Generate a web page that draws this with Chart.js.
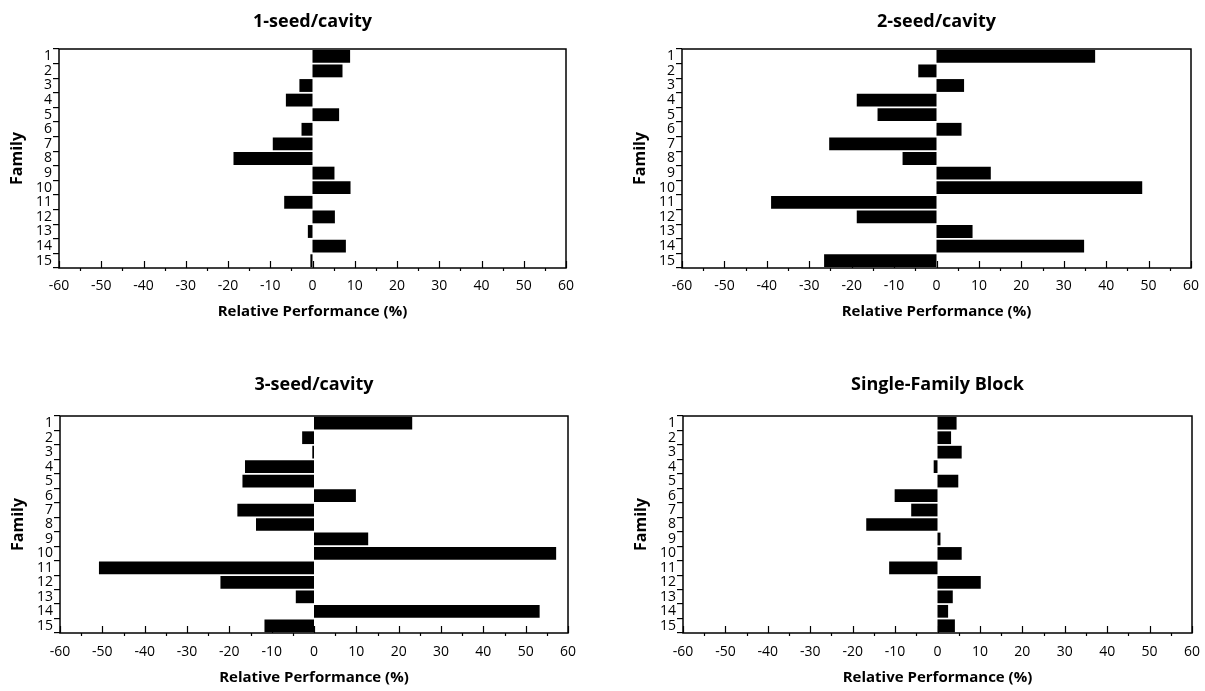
<!DOCTYPE html>
<html>
<head>
<meta charset="utf-8">
<title>Relative Performance by Family</title>
<script src="https://cdn.jsdelivr.net/npm/chart.js@4/dist/chart.umd.min.js"></script>
<style>
    html, body { margin: 0; padding: 0; background: #fff; }
    body { width: 1205px; height: 691px; position: relative; overflow: hidden; }
    canvas { position: absolute; }
</style>
</head>
<body>
<canvas id="chart1"></canvas>
<canvas id="chart2"></canvas>
<canvas id="chart3"></canvas>
<canvas id="chart4"></canvas>

<script>
// --- DATA ---
const families = ['1', '2', '3', '4', '5', '6', '7', '8', '9', '10', '11', '12', '13', '14', '15'];
const oneSeed    = [8.9, 7.1, -3.1, -6.3, 6.3, -2.6, -9.4, -18.7, 5.2, 9.0, -6.7, 5.3, -1.1, 7.9, -0.5];
const twoSeed    = [37.4, -4.3, 6.5, -18.8, -13.9, 5.9, -25.3, -8.0, 12.8, 48.5, -39.0, -18.8, 8.5, 34.8, -26.5];
const threeSeed  = [23.2, -2.8, -0.4, -16.3, -16.9, 9.9, -18.1, -13.7, 12.8, 57.2, -50.8, -22.1, -4.3, 53.3, -11.7];
const singleFam  = [4.5, 3.2, 5.7, -0.9, 4.9, -10.1, -6.2, -16.8, 0.7, 5.7, -11.4, 10.2, 3.6, 2.5, 4.1];
const xMin = -60, xMax = 60, xStep = 10;

const FONT = '"Open Sans", Lato, "DejaVu Sans", sans-serif';
const TITLE_BLOCK = 49;   // px from canvas top to plot top
const XAXIS_BLOCK = 62;   // px from plot bottom to canvas bottom
const TITLE_SIZE = 18, TICK_SIZE = 14, XTITLE_SIZE = 15, YTITLE_SIZE = 16;

// --- PLUGIN: box around plot + x ticks (10s up inside, 5s small outside) ---
const frameTicks = {
    id: 'frameTicks',
    afterDraw(chart) {
        const { ctx, chartArea: a } = chart;
        const x = chart.scales.x;
        ctx.save();
        ctx.strokeStyle = '#000';
        ctx.lineWidth = 1.5;
        ctx.strokeRect(a.left, a.top, a.right - a.left, a.bottom - a.top);
        ctx.lineWidth = 1.2;
        for (let v = xMin; v <= xMax; v += xStep / 2) {
            const px = Math.round(x.getPixelForValue(v)) + 0.5;
            ctx.beginPath();
            ctx.moveTo(px, a.bottom);
            ctx.lineTo(px, v % xStep === 0 ? a.bottom - 7 : a.bottom + 3);
            ctx.stroke();
        }
        ctx.restore();
    }
};

// --- PANEL ---
function makePanel(id, title, values, box) {
    const canvas = document.getElementById(id);
    canvas.style.left = box.left + 'px';
    canvas.style.top = box.top + 'px';
    canvas.width = box.width;
    canvas.height = box.height;

    const titleLH = TITLE_SIZE * 1.2;
    const titleTop = box.titleCenter - titleLH / 2;
    const xTitleLH = XTITLE_SIZE * 1.2;
    const yTitleLH = YTITLE_SIZE * 1.2;

    return new Chart(canvas.getContext('2d'), {
        type: 'bar',
        data: {
            labels: families,
            datasets: [{
                data: values,
                backgroundColor: '#000',
                borderWidth: 0,
                barPercentage: 0.88,
                categoryPercentage: 1.0,
            }],
        },
        options: {
            indexAxis: 'y',
            responsive: false,
            animation: false,
            layout: { padding: { left: 0, right: 12, top: 0, bottom: 0 } },
            plugins: {
                legend: { display: false },
                tooltip: { enabled: false },
                title: {
                    display: true,
                    fullSize: false,   // centre over the plot, not the canvas
                    text: title,
                    color: '#000',
                    font: { family: FONT, size: TITLE_SIZE, weight: 'bold', lineHeight: 1.2 },
                    padding: { top: titleTop, bottom: TITLE_BLOCK - titleTop - titleLH },
                },
            },
            scales: {
                x: {
                    type: 'linear',
                    min: xMin,
                    max: xMax,
                    grid: { display: false, drawTicks: false },
                    border: { display: false },
                    ticks: {
                        stepSize: xStep,
                        color: '#000',
                        padding: box.tickCenter - TICK_SIZE * 0.6,
                        maxRotation: 0,
                        font: { family: FONT, size: TICK_SIZE, lineHeight: 1.2 },
                    },
                    title: {
                        display: true,
                        text: 'Relative Performance (%)',
                        color: '#000',
                        font: { family: FONT, size: XTITLE_SIZE, weight: 'bold', lineHeight: 1.2 },
                        padding: { top: 0, bottom: XAXIS_BLOCK - xTitleLH / 2 - box.xTitleCenter },
                    },
                    afterFit(scale) {
                        scale.height = XAXIS_BLOCK;
                        scale.paddingLeft = 0;
                        scale.paddingRight = 0;
                    },
                },
                y: {
                    type: 'category',
                    offset: true,
                    grid: { display: true, drawOnChartArea: false, drawTicks: true, tickLength: 6, color: '#000', lineWidth: 1.2 },
                    border: { display: false },
                    ticks: {
                        color: '#000',
                        padding: 1,
                        autoSkip: false,
                        font: { family: FONT, size: TICK_SIZE, lineHeight: 1 },
                    },
                    title: {
                        display: true,
                        text: 'Family',
                        color: '#000',
                        font: { family: FONT, size: YTITLE_SIZE, weight: 'bold', lineHeight: 1.2 },
                        padding: { top: 17 - yTitleLH / 2, bottom: 0 },
                    },
                    afterFit(scale) {
                        scale.width = 59;
                        scale.paddingTop = 0;
                        scale.paddingBottom = 0;
                    },
                },
            },
        },
        plugins: [frameTicks],
    });
}

// --- INIT ---
makePanel('chart1', '1-seed/cavity', oneSeed,
    { left: 0, top: 0, width: 578, height: 330, titleCenter: 22, tickCenter: 18, xTitleCenter: 44 });
makePanel('chart2', '2-seed/cavity', twoSeed,
    { left: 623, top: 0, width: 580, height: 330, titleCenter: 22, tickCenter: 18, xTitleCenter: 44 });
makePanel('chart3', '3-seed/cavity', threeSeed,
    { left: 1, top: 367, width: 579, height: 328, titleCenter: 18, tickCenter: 19, xTitleCenter: 45 });
makePanel('chart4', 'Single-Family Block', singleFam,
    { left: 624, top: 367, width: 580, height: 328, titleCenter: 18, tickCenter: 19, xTitleCenter: 45 });
</script>
</body>
</html>
